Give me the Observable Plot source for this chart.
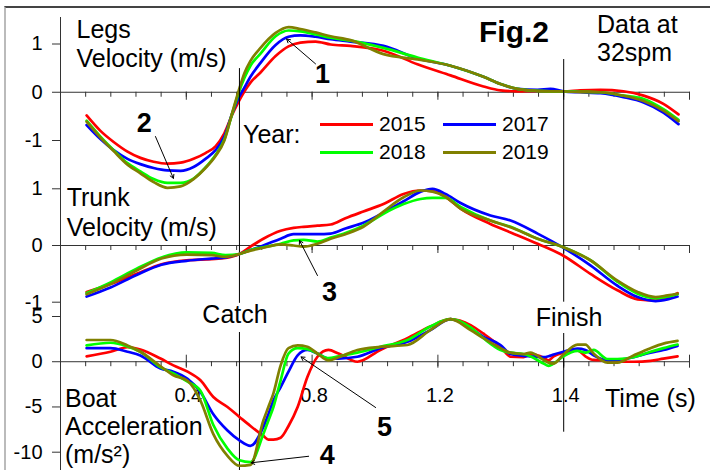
<!DOCTYPE html>
<html><head><meta charset="utf-8">
<script src="https://cdn.jsdelivr.net/npm/d3@7"></script>
<script src="https://cdn.jsdelivr.net/npm/@observablehq/plot@0.6"></script>
<style>
html,body{margin:0;padding:0;background:#fff;overflow:hidden}
#wrap{position:relative;width:710px;height:470px;font-family:'Liberation Sans',Arial,sans-serif;color:#000;overflow:hidden}
#wrap svg{position:absolute;left:0;top:0}
.lbl{position:absolute;white-space:pre}
#frame{position:absolute;left:4px;top:6px;right:0;bottom:0;border-top:2px solid #444;border-left:2px solid #bbb}
</style></head><body><div id="wrap"><div id="frame"></div></div>
<script>
// ---- data ----
const years = ["2015", "2017", "2018", "2019"];
const colors = ["#ff0000", "#0000ff", "#00ff00", "#808000"];

// Legs velocity (m/s)
const legsTime = [0.083,0.127,0.169,0.213,0.254,0.296,0.340,0.382,0.423,0.461,0.493,0.521,0.547,0.566,0.585,0.604,0.636,0.684,0.725,0.763,0.811,0.859,0.922,1.027,1.135,1.240,1.345,1.399,1.453,1.517,1.558,1.599,1.653,1.717,1.790,1.854,1.917,1.965];
const legs2015 = [-0.48,-0.80,-1.03,-1.23,-1.36,-1.44,-1.48,-1.46,-1.38,-1.26,-1.12,-0.85,-0.45,-0.20,0.02,0.20,0.41,0.75,0.95,1.03,1.05,0.99,0.96,0.86,0.58,0.35,0.12,0.04,0.02,0.03,0.02,0.02,0.04,0.05,0.02,-0.07,-0.24,-0.46];
const legs2017 = [-0.68,-0.97,-1.20,-1.38,-1.49,-1.57,-1.62,-1.63,-1.55,-1.38,-1.20,-0.92,-0.42,-0.12,0.10,0.32,0.61,0.98,1.15,1.18,1.15,1.10,1.05,0.96,0.70,0.55,0.32,0.17,0.07,0.05,0.07,0.02,0.0,-0.02,-0.10,-0.21,-0.42,-0.66];
const legs2018 = [-0.59,-0.92,-1.20,-1.47,-1.64,-1.80,-1.88,-1.88,-1.79,-1.56,-1.30,-0.98,-0.42,-0.02,0.30,0.55,0.80,1.16,1.28,1.26,1.20,1.13,1.07,0.92,0.72,0.55,0.32,0.17,0.07,0.03,0.02,0.02,0.01,0.0,-0.07,-0.14,-0.35,-0.57];
const legs2019 = [-0.61,-0.94,-1.22,-1.50,-1.68,-1.86,-1.98,-1.95,-1.80,-1.57,-1.32,-1.00,-0.40,0.02,0.40,0.65,0.92,1.23,1.35,1.31,1.24,1.16,1.08,0.79,0.68,0.55,0.32,0.17,0.07,0.03,0.02,0.02,0.0,0.0,-0.07,-0.18,-0.38,-0.60];

// Trunk velocity (m/s)
const trunkTime = [0.083,0.159,0.242,0.321,0.401,0.480,0.525,0.569,0.604,0.645,0.700,0.741,0.773,0.817,0.859,0.906,0.963,1.027,1.091,1.145,1.183,1.224,1.272,1.367,1.431,1.517,1.599,1.685,1.771,1.835,1.892,1.930,1.962];
const trunk2015 = [-0.82,-0.68,-0.50,-0.33,-0.26,-0.24,-0.22,-0.15,-0.02,0.12,0.26,0.31,0.33,0.35,0.37,0.48,0.60,0.73,0.91,0.97,0.96,0.86,0.65,0.38,0.23,0.03,-0.18,-0.50,-0.79,-0.95,-0.97,-0.92,-0.84];
const trunk2017 = [-0.90,-0.74,-0.52,-0.34,-0.27,-0.23,-0.21,-0.15,-0.08,0.0,0.12,0.20,0.20,0.20,0.21,0.30,0.40,0.58,0.78,0.95,1.0,0.91,0.75,0.53,0.44,0.21,-0.04,-0.35,-0.71,-0.91,-0.98,-0.95,-0.90];
const trunk2018 = [-0.84,-0.65,-0.41,-0.21,-0.12,-0.13,-0.17,-0.15,-0.08,-0.03,0.03,0.09,0.10,0.07,0.14,0.22,0.35,0.56,0.73,0.82,0.84,0.84,0.68,0.44,0.33,0.12,-0.03,-0.26,-0.64,-0.85,-0.93,-0.90,-0.86];
const trunk2019 = [-0.86,-0.68,-0.44,-0.23,-0.16,-0.17,-0.20,-0.15,-0.09,-0.04,0.02,0.0,-0.02,0.03,0.12,0.20,0.33,0.60,0.85,0.97,0.95,0.86,0.65,0.44,0.32,0.12,-0.03,-0.26,-0.62,-0.82,-0.91,-0.88,-0.85];

// Boat acceleration (m/s²)
const boatTime = [0.083,0.159,0.213,0.254,0.318,0.359,0.404,0.445,0.486,0.531,0.569,0.604,0.645,0.661,0.677,0.700,0.725,0.754,0.785,0.817,0.852,0.884,0.944,1.017,1.103,1.176,1.240,1.304,1.345,1.399,1.431,1.472,1.494,1.536,1.552,1.568,1.599,1.644,1.669,1.695,1.739,1.771,1.822,1.876,1.917,1.962];
const boat2015 = [0.6,1.1,1.6,1.35,0.35,-0.4,-1.1,-2.05,-3.9,-5.0,-6.1,-7.1,-8.2,-8.6,-8.6,-8.4,-7.1,-5.0,-1.7,0.55,1.3,0.9,0.0,1.3,2.6,3.9,4.7,4.05,3.1,1.65,0.55,0.5,0.85,0.45,0.15,0.6,1.0,1.25,0.6,0.2,0.15,0.0,0.0,0.1,0.35,0.6];
const boat2017 = [1.5,1.5,1.1,0.7,-0.75,-1.1,-1.9,-3.35,-5.8,-7.6,-8.7,-9.3,-7.2,-5.8,-4.3,-2.8,-1.1,0.7,1.3,0.9,0.35,0.35,0.55,1.5,2.2,3.5,4.7,3.7,2.75,1.85,0.85,0.65,0.6,0.5,0.6,0.8,1.1,1.45,1.3,0.7,0.15,0.2,0.5,1.0,1.3,1.75];
const boat2018 = [1.8,2.1,1.7,1.1,-0.6,-1.3,-2.2,-3.2,-7.0,-9.6,-10.9,-11.1,-8.0,-6.5,-5.0,-2.05,0.9,1.5,1.4,0.9,0.4,0.6,1.0,1.65,2.4,3.9,4.7,3.8,2.6,1.3,1.0,0.85,0.6,-0.2,-0.45,-0.2,0.6,1.2,1.0,1.3,0.3,0.3,0.5,1.1,1.5,1.9];
const boat2019 = [2.4,2.4,1.8,1.1,-0.5,-1.5,-2.1,-4.3,-8.0,-10.4,-11.5,-11.4,-6.5,-5.0,-3.5,-0.4,1.5,1.8,1.65,0.9,0.15,0.5,1.3,1.65,1.85,3.5,4.7,3.5,2.6,1.5,1.0,0.85,1.0,0.2,-0.1,-0.2,0.8,1.9,1.9,0.9,-0.1,-0.1,0.7,1.5,2.0,2.3];

// axis ticks and labels
const legsYTicks = [-1, 0, 1];
const trunkYTicks = [-1, 0, 1];
const boatYTicks = [-10, -5, 0, 5];
const xLabelTicks = [0.4, 0.8, 1.2, 1.6];
const xTickLabels = ["0.4", "0.8", "1.2", "1.4"];
const majorTicks = [0.4, 0.8, 1.2, 1.6, 2.0];
const minorTicks = d3.range(1, 26).map(i => +(i * 0.08).toFixed(2));

// events (s)
const catchTime = 0.569, finishTime = 1.6;

// annotations (data units of each panel)
const legsNotes = [{t: 0.833, v: 0.381, label: "1"}, {t: 0.266, v: -0.648, label: "2"}];
const legsArrows = [{x1: 0.811, y1: 0.588, x2: 0.719, y2: 1.103}, {x1: 0.302, y1: -0.918, x2: 0.359, y2: -1.784}];
const trunkNotes = [{t: 0.855, v: -0.829, label: "3"}];
const trunkArrows = [{x1: 0.817, y1: -0.529, x2: 0.760, y2: 0.088}];
const boatNotes = [{t: 0.848, v: -10.4, label: "4"}, {t: 1.030, v: -7.27, label: "5"}];
const boatArrows = [{x1: 0.789, y1: -10.45, x2: 0.606, y2: -11.17}, {x1: 1.002, y1: -5.06, x2: 0.765, y2: 0.53}];

// ---- build ----
const rows = (T, S) => years.flatMap((y, i) => T.map((t, j) => ({t, v: S[i][j], year: y})));
const legsRows = rows(legsTime, [legs2015, legs2017, legs2018, legs2019]);
const trunkRows = rows(trunkTime, [trunk2015, trunk2017, trunk2018, trunk2019]);
const boatRows = rows(boatTime, [boat2015, boat2017, boat2018, boat2019]);

const axisColor = "#333";
const common = {
  width: 710, height: 470, marginLeft: 60, marginRight: 21, marginTop: 5,
  x: {domain: [0, 2]},
  color: {domain: years, range: colors},
  style: {fontFamily: "'Liberation Sans', Arial, sans-serif", fontSize: "20px", background: "transparent", overflow: "visible", color: "#000"}
};
const lineOpts = {x: "t", y: "v", stroke: "year", z: "year", strokeWidth: 2.7, curve: "monotone-x"};
const noteOpts = {x: "t", y: "v", text: "label", fontSize: 27, fontWeight: "bold", fill: "#000"};
const arrowOpts = {x1: "x1", y1: "y1", x2: "x2", y2: "y2", stroke: "#000", strokeWidth: 1, headLength: 6};
const yFmt = d => String(d);

const legs = Plot.plot({
  ...common, marginBottom: 470 - 91.75,
  y: {domain: [-1, 1], range: [140, 43.5]},
  marks: [
    Plot.ruleY([0], {stroke: axisColor}),
    Plot.axisX({ticks: minorTicks, tickSize: 5, tickFormat: () => "", label: null, stroke: axisColor}),
    Plot.axisX({ticks: majorTicks, tickSize: 8, tickFormat: () => "", label: null, stroke: axisColor}),
    Plot.axisY({ticks: legsYTicks, tickSize: 8, tickPadding: 10, tickFormat: yFmt, label: null, stroke: axisColor}),
    Plot.ruleX([0], {y1: 1.549, y2: -7.84, stroke: axisColor}),
    Plot.line(legsRows, lineOpts),
    Plot.arrow(legsArrows, arrowOpts),
    Plot.text(legsNotes, noteOpts)
  ]
});

const trunk = Plot.plot({
  ...common, marginBottom: 470 - 245,
  y: {domain: [-1, 1], range: [301.7, 188.3]},
  marks: [
    Plot.ruleY([0], {stroke: axisColor}),
    Plot.axisX({ticks: minorTicks, tickSize: 5, tickFormat: () => "", label: null, stroke: axisColor}),
    Plot.axisX({ticks: majorTicks, tickSize: 8, tickFormat: () => "", label: null, stroke: axisColor}),
    Plot.axisY({ticks: trunkYTicks, tickSize: 8, tickPadding: 10, tickFormat: yFmt, label: null, stroke: axisColor}),
    Plot.ruleX([catchTime], {y1: 3.12, y2: -1.02, stroke: "#000"}),
    Plot.ruleX([finishTime], {y1: 3.28, y2: -1.0, stroke: "#000"}),
    Plot.line(trunkRows, lineOpts),
    Plot.arrow(trunkArrows, arrowOpts),
    Plot.text(trunkNotes, noteOpts)
  ]
});

const boat = Plot.plot({
  ...common, marginBottom: 470 - 361.2,
  y: {domain: [-10, 5], range: [451.7, 316]},
  marks: [
    Plot.ruleY([0], {stroke: axisColor}),
    Plot.axisX({ticks: minorTicks, tickSize: 5, tickFormat: () => "", label: null, stroke: axisColor}),
    Plot.axisX({ticks: majorTicks, tickSize: 13, dy: -6.5, tickFormat: () => "", label: null, stroke: axisColor}),
    Plot.axisX({ticks: xLabelTicks, tickSize: 0, tickPadding: 26, dx: 2, fontSize: 20,
      tickFormat: d => xTickLabels[xLabelTicks.indexOf(d)], label: null}),
    Plot.axisY({ticks: boatYTicks, tickSize: 8, tickPadding: 10, tickFormat: yFmt, label: null, stroke: axisColor}),
    Plot.ruleX([catchTime], {y1: 3.23, y2: -12.03, stroke: "#000"}),
    Plot.ruleX([finishTime], {y1: 3.12, y2: -7.79, stroke: "#000"}),
    Plot.line(boatRows, lineOpts),
    Plot.arrow(boatArrows, arrowOpts),
    Plot.text(boatNotes, noteOpts)
  ]
});

const wrap = document.getElementById("wrap");
wrap.append(legs, trunk, boat);

function label(text, {x, base, size = 25, lh, weight = "normal", anchor = "start"}) {
  const L = lh || Math.round(size * 1.15);
  text.split("\n").forEach((line, k) => {
    const b = base + k * L;
    const top = b - ((L - 1.117 * size) / 2 + 0.905 * size);
    const d = document.createElement("div");
    d.className = "lbl";
    d.textContent = line;
    Object.assign(d.style, {left: x + "px", top: top + "px", fontSize: size + "px", lineHeight: L + "px", fontWeight: weight});
    if (anchor === "middle") d.style.transform = "translateX(-50%)";
    wrap.appendChild(d);
  });
}
function swatch(color, x, y, w) {
  const d = document.createElement("div");
  Object.assign(d.style, {position: "absolute", left: x + "px", top: (y - 1.5) + "px", width: w + "px", height: "3px", background: color});
  wrap.appendChild(d);
}

label("Legs\nVelocity (m/s)", {x: 76.5, base: 38, lh: 28.7});
label("Trunk\nVelocity (m/s)", {x: 66.7, base: 206.7, lh: 29.3});
label("Boat\nAcceleration\n(m/s²)", {x: 65, base: 406.7, lh: 28.3});
label("Fig.2", {x: 479, base: 42.3, size: 30, weight: "bold"});
label("Data at\n32spm", {x: 597, base: 34, lh: 27.7});
label("Catch", {x: 235, base: 323.3, anchor: "middle"});
label("Finish", {x: 569, base: 326, anchor: "middle"});
label("Time (s)", {x: 605, base: 406.7});
label("Year:", {x: 243, base: 142.7});
const legendPos = [[320, 124], [443, 124], [320, 152], [443, 152]];
years.forEach((y, i) => {
  const [lx, ly] = legendPos[i];
  swatch(colors[i], lx, ly, 53);
  label(y, {x: lx + 59, base: ly + 7, size: 21});
});
</script></body></html>
